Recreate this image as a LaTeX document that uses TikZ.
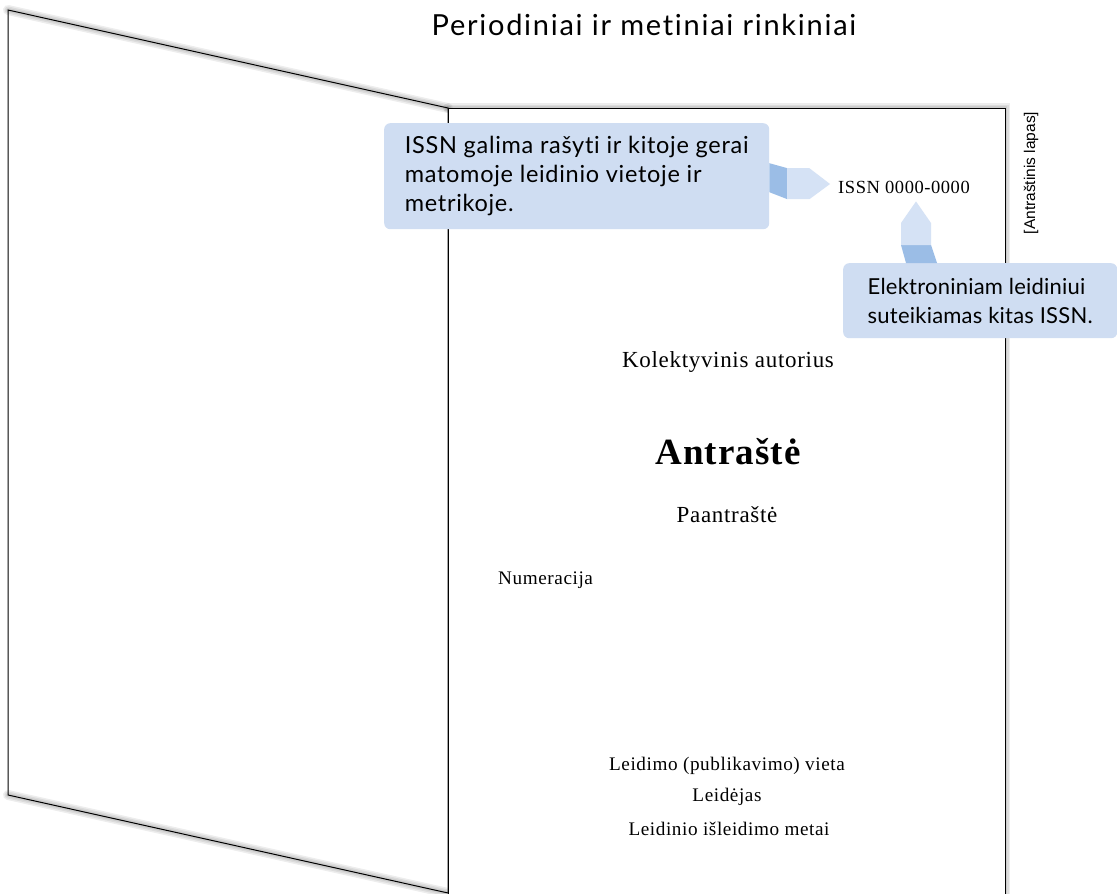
\documentclass[tikz,border=0pt]{standalone}
\usepackage{fontspec}
\setmainfont{Liberation Serif}
\setsansfont{Lato}
\newfontfamily\titlefont[LetterSpace=6,Ligatures=NoCommon]{Lato}
\newfontfamily\notefont[LetterSpace=3,Ligatures=NoCommon]{Lato}
\newfontfamily\epubfont[LetterSpace=1,Ligatures=NoCommon]{Lato}
\newfontfamily\pagefont[LetterSpace=3]{Liberation Serif}
\newfontfamily\labelfont{Liberation Sans}
\usepackage{xcolor}
\usetikzlibrary{calc}

\definecolor{notefill}{RGB}{207,221,242}
\definecolor{notelight}{RGB}{213,226,245}
\definecolor{notedark}{RGB}{155,189,230}

\begin{document}
\begin{tikzpicture}[
  x=1pt, y=-1pt,
  sheet/.style={draw=black, line width=1pt},
  soft/.style={black, opacity=0.07, line cap=round, shift={(1.5,3.5)}},
  note/.style={rectangle, rounded corners=6pt, fill=notefill, align=left,
               font=\notefont\fontsize{23.5}{29}\selectfont, inner sep=0pt},
  pagetext/.style={font=\pagefont\fontsize{23}{26}\selectfont, inner sep=1pt},
  small/.style={font=\pagefont\fontsize{19.2}{22}\selectfont, inner sep=1pt}
]
  \useasboundingbox (0,0) rectangle (1117,894);

  % page corners
  \coordinate (flapTL) at (8,10);
  \coordinate (flapBL) at (8,795);
  \coordinate (spineT) at (448,108);
  \coordinate (spineB) at (448,893);
  \coordinate (pageTR) at (1005,108);
  \coordinate (pageBR) at (1005,910);

  % soft shadows
  \foreach \w in {10,7,4}{
    \draw[soft, line width=\w pt] (spineT) -- (pageTR) -- (pageBR);
    \draw[soft, line width=\w pt] (flapTL) -- (spineT);
    \draw[soft, line width=\w pt] (flapBL) -- (spineB);
  }
  \fill[white] (spineT) -- (pageTR) -- (pageBR) -- (448,910) -- cycle;
  \draw[sheet] (448,910) -- (spineT) -- (pageTR) -- (pageBR);
  \draw[sheet] (spineT) -- (flapTL) -- (flapBL) -- (spineB) -- cycle;

  \node[font=\titlefont\fontsize{29}{32}\selectfont] (title) at (644,25)
    {Periodiniai ir metiniai rinkiniai};
  \node[rotate=90, font=\labelfont\fontsize{15.5}{18}\selectfont] (lapas) at (1031,173)
    {[Antraštinis lapas]};

  % title page texts
  \node[font=\pagefont\fontsize{18.5}{20}\selectfont, inner sep=1pt] (issn) at (904,187)
    {ISSN 0000-0000};
  \node[pagetext] (autorius) at (728,362) {Kolektyvinis autorius};
  \node[font=\pagefont\bfseries\fontsize{37}{40}\selectfont] (antraste) at (728,452) {Antraštė};
  \node[pagetext] (paantraste) at (727,515) {Paantraštė};
  \node[small, anchor=west] (numeracija) at (497,580) {Numeracija};
  \node[small] (vieta) at (727,766) {Leidimo (publikavimo) vieta};
  \node[small] (leidejas) at (727,797) {Leidėjas};
  \node[small] (metai) at (729,829) {Leidinio išleidimo metai};

  % callouts
  \node[note, anchor=north west, minimum width=385pt, minimum height=106pt] (issnnote)
    at (384,123) {ISSN galima rašyti ir kitoje gerai\\matomoje leidinio vietoje ir\\metrikoje.};
  \node[note, font=\epubfont\fontsize{22}{29}\selectfont, anchor=north west,
        minimum width=274pt, minimum height=75pt] (epubnote)
    at (843,263) {Elektroniniam leidiniui\\suteikiamas kitas ISSN.};

  \fill[notedark] (issnnote.east) ++(0,-13) -- ++(18,5) -- ++(0,31) -- ++(-18,-7) -- cycle;
  \fill[notelight] ($(issnnote.east)+(18,-8)$) -- ++(22,0) -- ($(issn.west)+(-7,-3)$)
    -- ($(issnnote.east)+(40,23)$) -- ++(-22,0) -- cycle;

  \fill[notedark] ($(epubnote.north west)+(63,0)$) -- ++(-5,-18) -- ++(30,0) -- ++(6,18) -- cycle;
  \fill[notelight] ($(epubnote.north west)+(58,-18)$) -- ++(0,-22) -- ($(issn.south)+(12,7)$)
    -- ($(epubnote.north west)+(88,-40)$) -- ++(0,22) -- cycle;
\end{tikzpicture}
\end{document}
